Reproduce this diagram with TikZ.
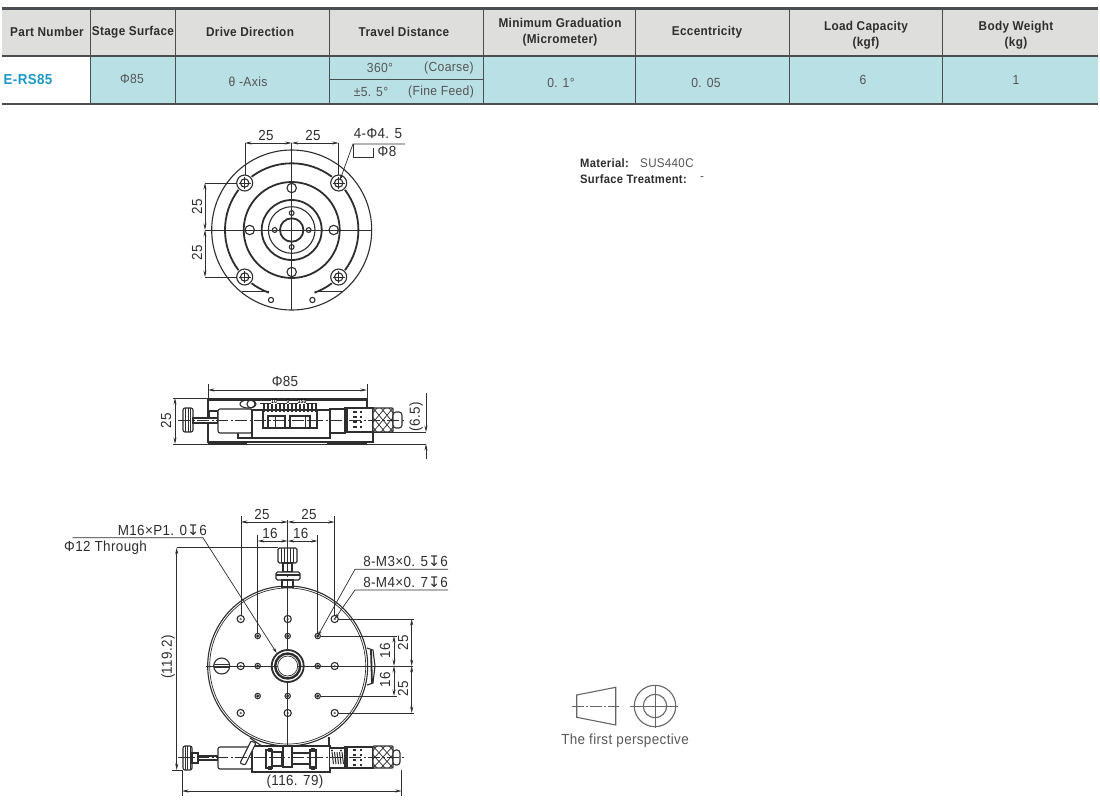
\documentclass[tikz,border=0pt]{standalone}
\usepackage{fontspec}
\setmainfont[FakeStretch=0.92,LetterSpace=2.5]{Liberation Sans}
\newfontfamily\symfont{DejaVu Sans}
\usetikzlibrary{arrows.meta}
\definecolor{hdr}{HTML}{DEDEDC}
\definecolor{teal}{HTML}{B9E0E5}
\definecolor{rule}{HTML}{4A4E50}
\definecolor{ink}{HTML}{2E2E2E}
\definecolor{gtxt}{HTML}{555555}
\definecolor{pn}{HTML}{1B9AC6}
\newcommand{\depth}{{\symfont\char"21A7}}
\tikzset{
 x=1pt,y=-1pt,
 hline/.style={draw=rule,line width=2.2pt},
 vline/.style={draw=rule,line width=1pt},
 headtxt/.style={font=\fontsize{12.8}{16.5}\selectfont\bfseries,text=ink,align=center,inner sep=0pt},
 celltxt/.style={font=\fontsize{13.2}{15}\selectfont,text=gtxt,align=center,inner sep=0pt},
 part/.style={line width=1.1pt,draw=ink},
 thick part/.style={line width=1.8pt,draw=ink},
 thin part/.style={line width=0.7pt,draw=ink},
 dim/.style={line width=0.7pt,draw=ink},
 dimarrow/.style={dim,{Stealth[length=6.5pt,width=3pt]}-{Stealth[length=6.5pt,width=3pt]}},
 tip end/.style={dim,-{Stealth[length=6.5pt,width=3pt]}},
 lead/.style={dim,-{Stealth[length=5.5pt,width=3pt]}},
 center line/.style={line width=0.8pt,draw=ink,dash pattern=on 12pt off 2.5pt on 2pt off 2.5pt},
 dimtxt/.style={font=\fontsize{14.6}{16}\selectfont,text=ink,inner sep=0pt},
 rotdim/.style={dimtxt,rotate=90},
 sym/.style={line width=1.1pt,draw=black!60},
}
\begin{document}
\begin{tikzpicture}
\useasboundingbox (0,0) rectangle (1100,804);
\fill[white] (0,0) rectangle (1100,804);
% table
\fill[hdr] (2,9) rectangle (1098,56);
\fill[teal] (90,56) rectangle (1098,103);
\draw[vline] (90,9)--(90,103);
\foreach \cx in {175,329,483,635,789,942} \draw[vline] (\cx,9)--(\cx,103);
\draw[line width=1pt,draw=rule] (329,79)--(483,79);
\draw[hline] (2,8.5)--(1098,8.5);
\draw[hline] (2,56)--(1098,56);
\draw[hline] (2,104)--(1098,104);
\node[headtxt] (h1) at (47,32) {Part Number};
\node[headtxt] (h2) at (133,32) {Stage Surface};
\node[headtxt] (h3) at (250,32) {Drive Direction};
\node[headtxt] (h4) at (404,32) {Travel Distance};
\node[headtxt] (h5) at (560,32) {Minimum Graduation\\(Micrometer)};
\node[headtxt] (h6) at (707,32) {Eccentricity};
\node[headtxt] (h7) at (866,35) {Load Capacity\\(kgf)};
\node[headtxt] (h8) at (1016,35) {Body Weight\\(kg)};
\node[headtxt,font=\fontsize{14.5}{16}\selectfont\bfseries,text=pn] (d1) at (28,80) {E-RS85};
\node[celltxt] (d2) at (132,79) {Φ85};
\node[celltxt] (d3) at (248,82) {θ -Axis};
\node[celltxt] (d4a) at (380,68) {360°};
\node[celltxt] (d4b) at (449,68) {(Coarse)};
\node[celltxt] (d4c) at (371,92) {±5. 5°};
\node[celltxt] (d4d) at (441,92) {(Fine Feed)};
\node[celltxt] (d5) at (561,83) {0. 1°};
\node[celltxt] (d6) at (706,83) {0. 05};
\node[celltxt] (d7) at (863,80) {6};
\node[celltxt] (d8) at (1016,80) {1};
% ---------- top view
\begin{scope}[shift={(291.7,230)}]
 \draw[part] (0,0) circle (80);
 \foreach \a/\b in {233/307,323/397,143/217,53/70,110/127}
  \draw[thick part] (\a:66.7) arc[start angle=\a,end angle=\b,radius=66.7];
 \draw[thick part] (0,0) circle (48);
 \draw[thick part] (0,0) circle (30);
 \draw[part] (0,0) circle (23.3);
 \draw[thick part] (0,0) circle (11.7);
 \foreach \p in {(-47,-47),(47,-47),(-47,47),(47,47)} {
  \draw[part] \p circle (8);
  \draw[part] \p circle (4.2);
  \draw[thin part] \p ++(-6,0)--++(12,0) \p ++(0,-6)--++(0,12);
 }
 \foreach \p in {(0,-42),(0,42),(-42,0),(42,0)} \draw[part,fill=white] \p circle (4.7);
 \foreach \p in {(0,-17),(0,17),(-17,0),(17,0)} \draw[part] \p circle (2.4);
 \foreach \p in {(-20.7,70),(20.7,70)} \draw[part] \p circle (2.6);
 \draw[part] (-50,61.7)--(-23,61.7) (23,61.7)--(50,61.7);
 \draw[thin part] (-87,0)--(80,0);
 \draw[thin part] (0,-87)--(0,80);
\end{scope}
\draw[dim] (245,143)--(245,175);
\draw[dim] (338.7,143)--(338.7,175);
\draw[dimarrow] (245,143)--(291.7,143);
\draw[dimarrow] (291.7,143)--(338.7,143);
\draw[dim] (205,183)--(237,183);
\draw[dim] (205,277)--(237,277);
\draw[dimarrow] (205,183)--(205,230);
\draw[dimarrow] (205,230)--(205,277);
\node[dimtxt] (t1) at (266,135) {25};
\node[dimtxt] (t2) at (313,135) {25};
\node[rotdim] (t3) at (197,207) {25};
\node[rotdim] (t4) at (197,253) {25};
\coordinate (lp) at (353,144);
\draw[dim,{Stealth[length=5.5pt,width=3pt]}-] (340,180)--(lp)--(405,144);
\draw[dim] (lp)--(353,157)--(373,157)--(373,148);
\node[dimtxt] (t5) at (378,134) {4-Φ4. 5};
\node[dimtxt] (t6) at (387,151) {Φ8};
% ---------- side view
\draw[dim] (208,384)--(208,398) (367,384)--(367,398);
\draw[dimarrow] (208,390)--(367,390);
\node[dimtxt] (t7) at (285,381) {Φ85};
\draw[dim] (173,398)--(368,398);
\draw[dim] (173,444)--(426,444);
\draw[dimarrow] (175,398)--(175,444);
\node[rotdim] (t8) at (166,421) {25};
\draw[thick part] (208,400)--(367,400);
\draw[part] (208,398)--(208,442)--(373,442)--(373,432);
\draw[part] (367,398)--(367,408);
\draw[thick part] (208,444)--(247,444) (327,444)--(367,444);
\draw[part] (238,433)--(238,438)--(327,438)--(327,433);
% side micrometer
\draw[part,fill=white,rounded corners=2pt] (183,408) rectangle (193,432);
\foreach \v in {185.5,188,190.5} \draw[thin part] (\v,408)--(\v,432);
\draw[part,fill=white] (193,418) rectangle (218,423);
\draw[part,fill=white] (209,411) rectangle (218,418);
\draw[part,fill=white,rounded corners=2pt] (218,409) rectangle (252,433);
\draw[part,fill=white] (252,410) rectangle (330,438);
\draw[part] (263,410) rectangle (317,428);
\draw[part] (268,416) rectangle (285,428) (290,416) rectangle (310,428);
\draw[thin part] (275,416)--(275,428) (305,416)--(305,428);
\draw[part,fill=white] (330,409) rectangle (345,433);
\draw[part,fill=white] (345,408) rectangle (373,432);
\draw[thick part] (347,408)--(347,432);
\foreach \v in {412,417,422,427} \draw[thick part] (353,\v)--(357,\v) (360,\v)--(362,\v);
\draw[part,fill=white,rounded corners=1pt] (373,408) rectangle (393,432);
\begin{scope}
 \clip (373,408) rectangle (393,432);
 \foreach \v in {-24,-16,...,24} {\draw[thin part] (373+\v,408)--(393+\v,432); \draw[thin part] (393+\v,408)--(373+\v,432);}
\end{scope}
\draw[part,fill=white,rounded corners=3pt] (393,412) rectangle (402,428);
\draw[part] (248,404) circle[x radius=8,y radius=4];
\draw[part] (251,404) circle[x radius=4,y radius=4];
\draw[thin part] (260,403)--(317,403);
\foreach \v in {264,268,...,316} \draw[thick part,line width=1.4pt] (\v,404)--(\v,412);
\node[inner sep=0pt,font=\fontsize{5.5}{6}\selectfont\bfseries,fill=white] (s1) at (274,402) {10};
\node[inner sep=0pt,font=\fontsize{5.5}{6}\selectfont\bfseries,fill=white] (s2) at (288,402) {0};
\node[inner sep=0pt,font=\fontsize{5.5}{6}\selectfont\bfseries,fill=white] (s3) at (302,402) {350};
\draw[center line] (178,420)--(405,420);
\draw[dim] (373,432)--(426,432);
\draw[dim] (426,393)--(426,420);
\draw[tip end] (426,420)--(426,432);
\draw[tip end] (426,459)--(426,444);
\node[rotdim] (t9) at (416,417) {(6.5)};
% ---------- bottom view
\begin{scope}[shift={(287.7,666)}]
 \draw[part] (0,0) circle (80);
 \draw[thin part] (0,0) circle (78);
 \draw[thick part] (0,0) circle (16);
 \draw[thick part,line width=2.4pt] (0,0) circle (12.5);
 \draw[thin part] (0,0) circle (10);
 \foreach \p in {(-47,-47),(47,-47),(-47,47),(47,47),(-47,0),(47,0),(0,-47),(0,47)} {
  \draw[part] \p circle (3.6);
  \fill[ink!70] \p circle (1.3);
 }
 \foreach \p in {(-30,-30),(30,-30),(-30,30),(30,30),(-30,0),(30,0),(0,-30),(0,30)} {
  \draw[part] \p circle (2.7);
  \fill[ink] \p circle (1.7);
 }
 \draw[part,fill=white] (-66,0) circle (8);
 \draw[thin part] (-74,-1.6)--(-58,-1.6) (-74,1.6)--(-58,1.6);
 \draw[thin part] (-82,0)--(-10,0) (10,0)--(125,0);
 \draw[thin part] (0,-146)--(0,-16) (0,16)--(0,100);
\end{scope}
% right scale bump
\draw[part] (367,648)--(373,650)--(375,666)--(373,683)--(367,685);
\draw[thick part] (371,650)--(372,683);
% top knob
\draw[part,fill=white,rounded corners=1.5pt] (278,548) rectangle (297,563);
\foreach \v in {281,284,287,290,293} \draw[thin part] (\v,548)--(\v,563);
\draw[part,fill=white] (283,563) rectangle (292,572);
\draw[part,fill=white,rounded corners=1.5pt] (276,572) rectangle (300,580);
\draw[thick part] (276,575)--(300,575);
\draw[part,fill=white] (282,580) rectangle (293,587);
\draw[center line] (287.7,522)--(287.7,590);
% dims
\draw[dim] (241,516)--(241,616) (334.7,516)--(334.7,616);
\draw[dim] (257.7,535)--(257.7,633) (317.7,535)--(317.7,633);
\draw[dimarrow] (241,522)--(287.7,522);
\draw[dimarrow] (287.7,522)--(334.7,522);
\draw[dimarrow] (257.7,541)--(287.7,541);
\draw[dimarrow] (287.7,541)--(317.7,541);
\node[dimtxt] (b1) at (262,514) {25};
\node[dimtxt] (b2) at (309,514) {25};
\node[dimtxt] (b3) at (270,533) {16};
\node[dimtxt] (b4) at (300.7,533) {16};
\draw[lead] (72.7,537.7)--(203,537.7)--(276.7,653);
\node[dimtxt,anchor=east] (b5) at (207,530) {M16×P1. 0\depth 6};
\node[dimtxt,anchor=west] (b6) at (64,547.5) {Φ12 Through};
\draw[lead] (448,569.3)--(355,569.3)--(317.7,636);
\draw[lead] (448,590)--(355,590)--(334.7,619);
\node[dimtxt,anchor=east] (b7) at (448,561) {8-M3×0. 5\depth 6};
\node[dimtxt,anchor=east] (b8) at (448,582) {8-M4×0. 7\depth 6};
\draw[dim] (338,619)--(414,619) (321,636)--(397,636);
\draw[dim] (321,696)--(397,696) (338,713)--(414,713);
\draw[dimarrow] (394,636)--(394,666);
\draw[dimarrow] (394,666)--(394,696);
\draw[dimarrow] (411.7,619)--(411.7,666);
\draw[dimarrow] (411.7,666)--(411.7,713);
\node[rotdim] (b9) at (385,651) {16};
\node[rotdim] (b10) at (403,643) {25};
\node[rotdim] (b11) at (385,680) {16};
\node[rotdim] (b12) at (403,689) {25};
\draw[dim] (176.7,547.7)--(278,547.7);
\draw[dimarrow] (176.7,547.7)--(176.7,770);
\draw[dim] (172,770)--(183,770);
\node[rotdim] (b13) at (168,657) {(119.2)};
\draw[dim] (182,770)--(182,796) (401.7,770)--(401.7,796);
\draw[dimarrow] (182,791)--(401.7,791);
\node[dimtxt] (b14) at (295,781.7) {(116. 79)};
% bottom micrometer
\draw[part] (329,737)--(329,746);
\draw[part] (250,738)--(262,746);
\draw[part,fill=white,rounded corners=2pt] (183,746) rectangle (192,770);
\foreach \v in {185,187.5,190} \draw[thin part] (\v,746)--(\v,770);
\draw[part,fill=white] (192,753) rectangle (198,763);
\draw[part,fill=white] (198,756) rectangle (218,760);
\draw[part,fill=white,rounded corners=2pt] (218,747) rectangle (252,769);
\draw[part,fill=white] (252,746) rectangle (330,772);
\draw[part,fill=white,rounded corners=1pt] (240,763)--(251,741)--(256,743)--(245,765)--cycle;
\draw[part] (266,750) rectangle (272,768) (310,750) rectangle (316,768);
\draw[part,fill=white] (272,752) rectangle (282,766);
\draw[part,fill=white] (282,754) rectangle (288,762);
\draw[part,fill=white] (283,746) rectangle (292,767);
\draw[part,fill=white] (292,753) rectangle (310,764);
\draw[thin part] (268,748) rectangle (271,751) (268,766) rectangle (271,769);
\draw[thin part] (311,748) rectangle (314,751) (311,766) rectangle (314,769);
\draw[part,fill=white] (330,748)--(345,748)--(345,768)--(330,768);
\foreach \v in {332,334.5,...,344} \draw[thick part,line width=1pt] (\v,752)--(\v+1.5,764);
\fill[ink] (332,750.5) circle (1.2) (341,750.5) circle (1.2);
\draw[part,fill=white] (345,747) rectangle (373,768);
\draw[thick part] (347,747)--(347,768);
\foreach \v in {750,755,760,765} \draw[thick part] (353,\v)--(356,\v) (360,\v)--(362,\v);
\draw[part,fill=white,rounded corners=1pt] (373,746) rectangle (393,768);
\begin{scope}
 \clip (373,746) rectangle (393,768);
 \foreach \v in {-24,-16,...,24} {\draw[thin part] (373+\v,746)--(393+\v,768); \draw[thin part] (393+\v,746)--(373+\v,768);}
\end{scope}
\draw[part,fill=white,rounded corners=3pt] (393,750) rectangle (400,765);
\draw[center line] (178,757.7)--(405,757.7);
% material
\node[anchor=west,inner sep=0pt,font=\fontsize{12.2}{13}\selectfont\bfseries,text=ink] (m1) at (580,163) {Material:};
\node[anchor=west,inner sep=0pt,font=\fontsize{12.6}{13}\selectfont,text=gtxt] (m2) at (640,163) {SUS440C};
\node[anchor=west,inner sep=0pt,font=\fontsize{12.2}{13}\selectfont\bfseries,text=ink] (m3) at (580,179) {Surface Treatment:};
\node[anchor=west,inner sep=0pt,font=\fontsize{12.6}{13}\selectfont,text=gtxt] (m4) at (700,179) {-};
% projection symbol
\draw[sym] (576.7,695)--(615.7,687.3)--(615.7,725)--(576.7,717.3)--cycle;
\draw[sym,line width=0.8pt,dash pattern=on 12pt off 2pt on 2pt off 2pt] (571.7,706)--(619,706);
\draw[sym] (655,706) circle (20.7) (655,706) circle (11.7);
\draw[sym,line width=0.8pt] (630,706)--(678,706) (655,685)--(655,728);
\node[inner sep=0pt,font=\fontsize{14.6}{16}\selectfont,text=black!65] (p1) at (625,741) {The first perspective};
\end{tikzpicture}
\end{document}
